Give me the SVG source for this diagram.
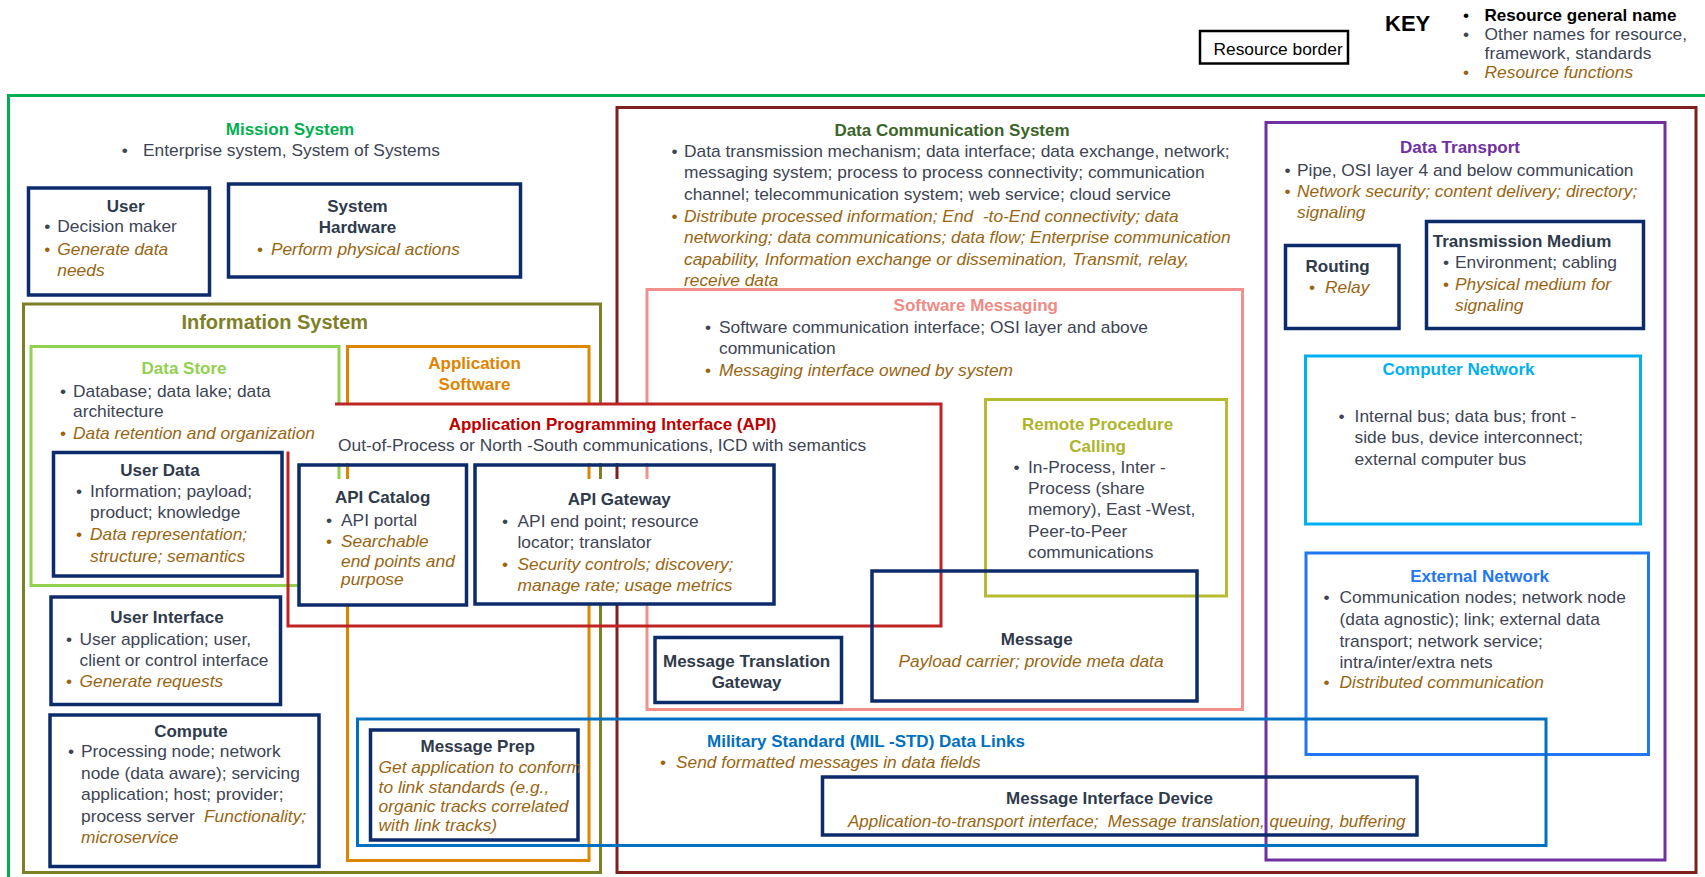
<svg xmlns="http://www.w3.org/2000/svg" width="1705" height="877" viewBox="0 0 1705 877">
<style>
text{font-family:"Liberation Sans",Arial,Helvetica,sans-serif;font-size:17.35px;fill:#3D4454}
.h{font-weight:bold;fill:#2F3A4B;font-size:17px}
.c{text-anchor:middle}
.f{font-style:italic;fill:#9A6511}
.fb{fill:#9A6511}
.k{fill:#000}
.fr{fill:none;stroke-width:3;stroke-linejoin:miter}
.nb{fill:none;stroke:#0C2B6B;stroke-width:3.5}
</style>
<rect x="0" y="0" width="1705" height="877" fill="#fff"/>

<g id="key">
<rect x="1200" y="31" width="148" height="32.5" fill="none" stroke="#000" stroke-width="2.5"/>
<text x="1213.5" y="55" class="k">Resource border</text>
<text x="1385" y="31" class="k" style="font-weight:bold;font-size:22px">KEY</text>
<text x="1463" y="20.7" class="k">•</text>
<text x="1484.6" y="20.7" class="k" style="font-weight:bold;font-size:17px">Resource general name</text>
<text x="1463" y="40">•</text>
<text x="1484.6" y="40">Other names for resource,</text>
<text x="1484.6" y="59">framework, standards</text>
<text x="1463" y="77.7" class="fb">•</text>
<text x="1484.6" y="77.7" class="f">Resource functions</text>
</g>

<g id="mission-system">
<path class="fr" stroke="#00B050" d="M8.5,880 V95.5 H1708"/>
<text x="290" y="135" class="h c" style="fill:#00B050">Mission System</text>
<text x="121.8" y="156">•</text>
<text x="143" y="156">Enterprise system, System of Systems</text>
</g>

<g id="user">
<rect class="nb" x="28.5" y="188" width="181" height="107"/>
<text x="125.7" y="212" class="h c">User</text>
<text x="44.3" y="232">•</text>
<text x="57.3" y="232">Decision maker</text>
<text x="44.3" y="255" class="fb">•</text>
<text x="57.3" y="255" class="f">Generate data</text>
<text x="57.3" y="275.6" class="f">needs</text>
</g>

<g id="system-hardware">
<rect class="nb" x="228.5" y="184" width="292" height="93"/>
<text x="357.5" y="212" class="h c">System</text>
<text x="357.5" y="233" class="h c">Hardware</text>
<text x="257" y="255" class="fb">•</text>
<text x="270.9" y="255" class="f">Perform physical actions</text>
</g>

<g id="information-system">
<path class="fr" stroke="#7F7F27" d="M600.5,404 V304 H23.5 V872.5 H600.5 V604 M600.5,463 V479"/>
<text x="274.8" y="329.3" class="h c" style="fill:#7F7F27;font-size:20px">Information System</text>
</g>

<g id="data-store">
<path class="fr" stroke="#92D050" d="M339,404 V346.5 H31 V585.5 H300 M339,463 V479"/>
<text x="184" y="374" class="h c" style="fill:#92D050">Data Store</text>
<text x="60" y="396.7">•</text>
<text x="73" y="396.7">Database; data lake; data</text>
<text x="73" y="417.3">architecture</text>
<text x="60" y="439.3" class="fb">•</text>
<text x="73" y="439.3" class="f">Data retention and organization</text>
</g>

<g id="application-software">
<path class="fr" stroke="#DD8500" d="M347.5,404 V346.5 H589 V404 M589,463 V479 M589,604 V860.5 H347.5 V605 M347.5,463 V479"/>
<text x="474.5" y="369" class="h c" style="fill:#E08400">Application</text>
<text x="474.5" y="390" class="h c" style="fill:#E08400">Software</text>
</g>

<g id="data-communication-system">
<path class="fr" stroke="#7F1F1F" d="M617,404 V107.5 H1696 V872.5 H617 V604 M617,463 V479"/>
<text x="952" y="135.7" class="h c" style="fill:#3B6428">Data Communication System</text>
<text x="671.5" y="156.7">•</text>
<text x="684" y="156.7">Data transmission mechanism; data interface; data exchange, network;</text>
<text x="684" y="178.3">messaging system; process to process connectivity; communication</text>
<text x="684" y="199.9">channel; telecommunication system; web service; cloud service</text>
<text x="671.5" y="221.5" class="fb">•</text>
<text x="684" y="221.5" class="f" xml:space="preserve">Distribute processed information; End  -to-End connectivity; data</text>
<text x="684" y="243.1" class="f">networking; data communications; data flow; Enterprise communication</text>
<text x="684" y="264.7" class="f">capability, Information exchange or dissemination, Transmit, relay,</text>
<text x="684" y="286.3" class="f">receive data</text>
</g>

<g id="software-messaging">
<path class="fr" stroke="#F2918B" d="M647,404 V289.5 H1242.5 V709.5 H647 V604 M647,463 V479"/>
<text x="975.8" y="310.7" class="h c" style="fill:#F08A84">Software Messaging</text>
<text x="705" y="333.3">•</text>
<text x="719" y="333.3">Software communication interface; OSI layer and above</text>
<text x="719" y="354">communication</text>
<text x="705" y="376" class="fb">•</text>
<text x="719" y="376" class="f">Messaging interface owned by system</text>
</g>

<g id="api">
<path class="fr" stroke="#BF2424" d="M335,404 H941 V626 H288 V451.5"/>
<text x="612.6" y="430" class="h c" style="fill:#C00000">Application Programming Interface (API)</text>
<text x="338" y="451">Out-of-Process or North -South communications, ICD with semantics</text>
</g>

<g id="user-data">
<rect class="nb" x="53.5" y="452.5" width="228.5" height="123.5"/>
<text x="160" y="475.7" class="h c">User Data</text>
<text x="76" y="497.3">•</text>
<text x="90" y="497.3">Information; payload;</text>
<text x="90" y="518.3">product; knowledge</text>
<text x="76" y="540" class="fb">•</text>
<text x="90" y="540" class="f">Data representation;</text>
<text x="90" y="561.7" class="f">structure; semantics</text>
</g>

<g id="api-catalog">
<rect class="nb" x="299" y="465" width="167.5" height="140"/>
<text x="382.7" y="503.3" class="h c">API Catalog</text>
<text x="326" y="525.7">•</text>
<text x="341" y="525.7">API portal</text>
<text x="326" y="547.3" class="fb">•</text>
<text x="341" y="547.3" class="f">Searchable</text>
<text x="341" y="566.7" class="f">end points and</text>
<text x="341" y="585" class="f">purpose</text>
</g>

<g id="api-gateway">
<rect class="nb" x="475" y="465" width="299" height="139"/>
<text x="619.3" y="505" class="h c">API Gateway</text>
<text x="502" y="527.3">•</text>
<text x="517.5" y="527.3">API end point; resource</text>
<text x="517.5" y="548.3">locator; translator</text>
<text x="502" y="570" class="fb">•</text>
<text x="517.5" y="570" class="f">Security controls; discovery;</text>
<text x="517.5" y="590.7" class="f">manage rate; usage metrics</text>
</g>

<g id="user-interface">
<rect class="nb" x="51" y="597" width="229.5" height="107.5"/>
<text x="167" y="623.3" class="h c">User Interface</text>
<text x="66" y="645">•</text>
<text x="79.5" y="645">User application; user,</text>
<text x="79.5" y="666">client or control interface</text>
<text x="66" y="687.3" class="fb">•</text>
<text x="79.5" y="687.3" class="f">Generate requests</text>
</g>

<g id="compute">
<rect class="nb" x="50" y="715" width="269" height="151.5"/>
<text x="191" y="736.7" class="h c">Compute</text>
<text x="68" y="757.3">•</text>
<text x="81" y="757.3">Processing node; network</text>
<text x="81" y="779.3">node (data aware); servicing</text>
<text x="81" y="800">application; host; provider;</text>
<text x="81" y="821.7">process server</text>
<text x="204" y="821.7" class="f">Functionality;</text>
<text x="81" y="843.3" class="f">microservice</text>
</g>

<g id="remote-procedure-calling">
<rect class="fr" stroke="#B5BC30" x="985.5" y="399.5" width="241" height="196.5"/>
<text x="1097.6" y="430" class="h c" style="fill:#AEB52A">Remote Procedure</text>
<text x="1097.6" y="451.7" class="h c" style="fill:#AEB52A">Calling</text>
<text x="1013.6" y="472.7">•</text>
<text x="1028" y="472.7">In-Process, Inter -</text>
<text x="1028" y="494">Process (share</text>
<text x="1028" y="515">memory), East -West,</text>
<text x="1028" y="537.3">Peer-to-Peer</text>
<text x="1028" y="558.3">communications</text>
</g>

<g id="message">
<rect class="nb" x="872" y="571" width="325" height="130"/>
<text x="1036.7" y="645" class="h c">Message</text>
<text x="1031" y="666.7" class="f c">Payload carrier; provide meta data</text>
</g>

<g id="message-translation-gateway">
<rect class="nb" x="655" y="637.5" width="186.5" height="65"/>
<text x="746.6" y="666.7" class="h c">Message Translation</text>
<text x="746.6" y="687.7" class="h c">Gateway</text>
</g>

<g id="data-transport">
<rect class="fr" stroke="#7030A0" x="1266" y="122.5" width="399" height="737.5"/>
<text x="1460" y="153.3" class="h c" style="fill:#7030A0">Data Transport</text>
<text x="1284.5" y="175.7">•</text>
<text x="1297" y="175.7">Pipe, OSI layer 4 and below communication</text>
<text x="1284.5" y="196.7" class="fb">•</text>
<text x="1297" y="196.7" class="f">Network security; content delivery; directory;</text>
<text x="1297" y="218.3" class="f">signaling</text>
</g>

<g id="routing">
<rect class="nb" x="1285.5" y="245.5" width="113.5" height="83"/>
<text x="1305.5" y="271.7" class="h">Routing</text>
<text x="1309" y="293.3" class="fb">•</text>
<text x="1325" y="293.3" class="f">Relay</text>
</g>

<g id="transmission-medium">
<rect class="nb" x="1426.5" y="221.5" width="217" height="107"/>
<text x="1432.8" y="246.7" class="h">Transmission Medium</text>
<text x="1443" y="268.3">•</text>
<text x="1455" y="268.3">Environment; cabling</text>
<text x="1443" y="290" class="fb">•</text>
<text x="1455" y="290" class="f">Physical medium for</text>
<text x="1455" y="310.7" class="f">signaling</text>
</g>

<g id="computer-network">
<rect class="fr" stroke="#00B0F0" x="1305.5" y="356" width="335" height="168"/>
<text x="1458.5" y="375" class="h c" style="fill:#00B0F0">Computer Network</text>
<text x="1338.4" y="421.7">•</text>
<text x="1354.6" y="421.7">Internal bus; data bus; front -</text>
<text x="1354.6" y="443.3">side bus, device interconnect;</text>
<text x="1354.6" y="465">external computer bus</text>
</g>

<g id="external-network">
<rect class="fr" stroke="#2176F2" x="1306" y="553" width="342.5" height="201.5"/>
<text x="1479.6" y="581.7" class="h c" style="fill:#2176F2">External Network</text>
<text x="1323.4" y="602.7">•</text>
<text x="1339.5" y="602.7">Communication nodes; network node</text>
<text x="1339.5" y="624.7">(data agnostic); link; external data</text>
<text x="1339.5" y="646.5">transport; network service;</text>
<text x="1339.5" y="668.3">intra/inter/extra nets</text>
<text x="1323.4" y="688.3" class="fb">•</text>
<text x="1339.5" y="688.3" class="f">Distributed communication</text>
</g>

<g id="mil-std-data-links">
<rect class="fr" stroke="#0070C0" x="357.5" y="719" width="1188.5" height="126.5"/>
<text x="707" y="747.3" class="h" style="fill:#0070C0">Military Standard (MIL -STD) Data Links</text>
<text x="660" y="768.3" class="fb">•</text>
<text x="676" y="768.3" class="f">Send formatted messages in data fields</text>
</g>

<g id="message-prep">
<rect class="nb" x="370.5" y="730" width="207.5" height="110"/>
<text x="477.7" y="751.7" class="h c">Message Prep</text>
<text x="378.6" y="772.7" class="f">Get application to conform</text>
<text x="378.6" y="792.7" class="f">to link standards (e.g.,</text>
<text x="378.6" y="811.7" class="f">organic tracks correlated</text>
<text x="378.6" y="830.7" class="f">with link tracks)</text>
</g>

<g id="message-interface-device">
<rect class="nb" x="822.5" y="777" width="594.5" height="58"/>
<text x="1109.5" y="804.3" class="h c">Message Interface Device</text>
<text x="848" y="826.7" class="f" style="font-size:17px" xml:space="preserve">Application-to-transport interface;  Message translation, queuing, buffering</text>
</g>
</svg>
